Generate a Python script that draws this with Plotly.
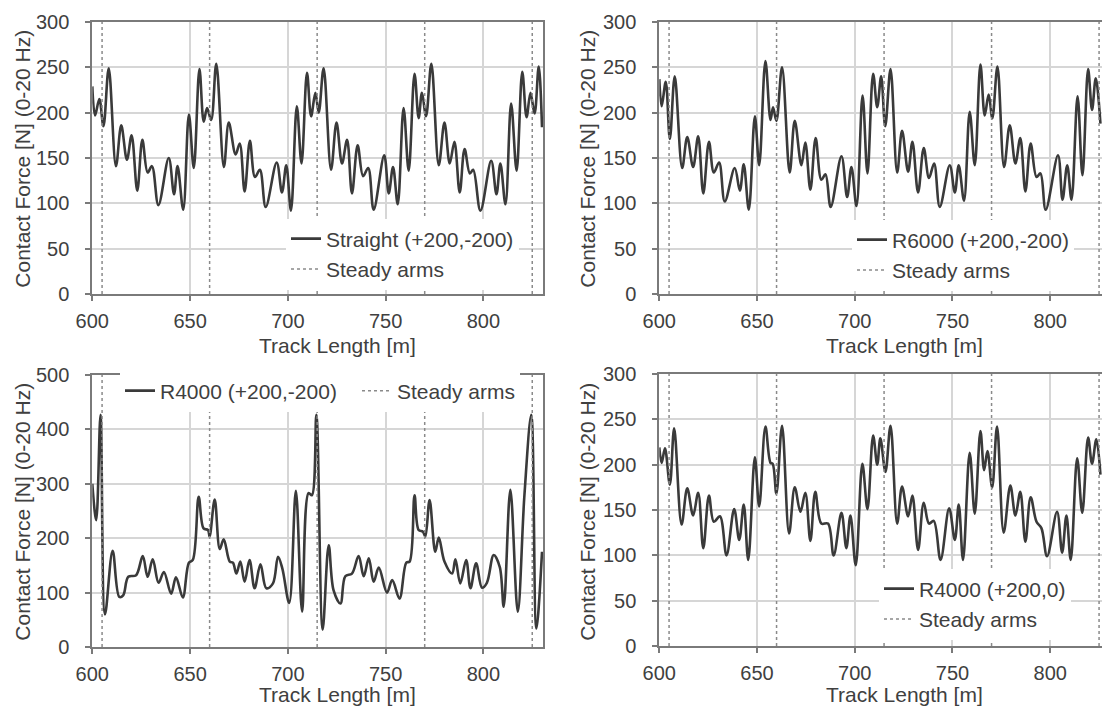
import plotly.graph_objects as go

W, H = 1102, 708

# Track positions of the steady arms [m]
steady_arm_x = [605, 660, 715, 770, 825]

# Straight track, stagger (+200,-200)
straight_x = [600, 601.4, 603.6, 605.7, 608.4, 612.1, 614.8, 617.7, 620.1, 623, 625.6, 628.3,
              630.5, 633.8, 639.1, 641.8, 643.6, 646.5, 649.4, 651.9, 654.8, 657, 658.7, 660.8,
              663.4, 667.3, 669.8, 673.3, 675.4, 677.9, 680.6, 683.2, 685.7, 688.7, 694.3, 697,
              699.2, 701.6, 704.6, 707, 709.8, 711.9, 714.1, 715.8, 718.3, 722.1, 724.9, 727.7,
              730.3, 732.8, 735.7, 738.5, 741.1, 743.9, 749.3, 751.6, 753.8, 756.2, 759.2, 761.8,
              764.8, 766.9, 768.6, 770.7, 773.4, 777.2, 780.1, 782.8, 785.2, 787.9, 790.4, 793.1,
              794.8, 798.5, 804, 806.7, 808.7, 811.3, 814.2, 817, 819.9, 822.1, 824.1, 826.2,
              828.3, 830]
straight_f = [229, 197, 215, 185, 249, 141, 186, 148, 175, 114, 170, 134,
              141, 98, 150, 110, 141, 93, 198, 139, 248, 190, 205, 192,
              254, 140, 189, 154, 166, 113, 169, 129, 137, 96, 145, 112,
              142, 92, 207, 144, 244, 196, 222, 200, 249, 137, 189, 144,
              170, 111, 164, 130, 139, 93, 153, 111, 140, 99, 205, 136,
              243, 194, 222, 196, 254, 142, 189, 144, 168, 112, 160, 133,
              137, 92, 147, 110, 144, 99, 210, 136, 245, 195, 222, 199,
              251, 184]

# Curve radius 6000 m, stagger (+200,-200)
r6000_x = [600, 601.2, 603.3, 605.4, 607.9, 611.7, 614.3, 617.3, 619.9, 622.5, 625.4, 627.9,
           630.6, 633.5, 638.6, 641.2, 643.2, 645.8, 648.9, 651.1, 654.3, 656.9, 658.2, 659.9,
           662.8, 666.7, 669.3, 672.7, 674.7, 677.3, 680, 682.9, 685, 687.7, 693.2, 696.1,
           698.3, 700.9, 704, 706.5, 709.4, 711.5, 713.5, 715.6, 718.3, 721.7, 724.2, 727.3,
           729.5, 732.4, 735.3, 738, 740.6, 743.5, 748.6, 751.2, 753.2, 755.9, 758.8, 761.4,
           764.3, 766.5, 768.5, 770.4, 773, 776.4, 779.3, 782.2, 784.7, 787.3, 790, 793,
           795, 797.7, 804, 806.3, 808.7, 810.9, 814, 816.5, 819.4, 821.4, 823.3, 825.7]
r6000_f = [237, 207, 234, 171, 240, 139, 173, 140, 174, 111, 168, 134,
           145, 102, 139, 114, 143, 93, 196, 142, 257, 192, 206, 191,
           250, 134, 191, 142, 167, 115, 172, 126, 132, 96, 152, 107,
           140, 97, 219, 133, 243, 206, 240, 185, 248, 134, 180, 135,
           168, 112, 161, 128, 144, 96, 142, 112, 142, 103, 201, 142,
           253, 197, 220, 194, 251, 140, 186, 144, 172, 113, 166, 129,
           133, 93, 153, 104, 142, 104, 218, 131, 248, 203, 238, 188]

# Curve radius 4000 m, stagger (+200,-200)
r4000a_x = [600, 602, 604.2, 606.5, 610.4, 613.8, 615.8, 618.4, 622.4, 625.8, 628.3, 630.9,
            633.9, 636.6, 640.3, 642.8, 646.3, 649.4, 651.4, 654.4, 656.9, 659.2, 660, 662.6,
            665.2, 667.2, 670.3, 671.9, 673.7, 675.7, 677.9, 680.4, 683, 686, 689, 692.4,
            695, 697.2, 700.7, 704.1, 707.3, 710.6, 712.3, 714.6, 717.8, 720.9, 723.4, 726.9,
            729.4, 732.8, 736.2, 738.8, 741.4, 743.9, 746.5, 750.7, 753.4, 757.1, 760.6, 762.3,
            764.8, 766.9, 769.1, 770.3, 772.5, 775.4, 777.2, 780.1, 784, 785.7, 788.2, 791.2,
            793.4, 796.3, 799.3, 801.8, 805.3, 808.4, 810.4, 813.8, 817.6, 821, 824.5, 827.1,
            830]
r4000a_f = [300, 233, 427, 60, 177, 92, 95, 129, 132, 167, 129, 161,
            118, 138, 98, 128, 91, 155, 160, 276, 218, 215, 203, 271,
            180, 198, 157, 155, 135, 157, 120, 160, 108, 152, 108, 117,
            166, 144, 81, 287, 65, 283, 279, 427, 32, 187, 104, 80,
            130, 135, 167, 130, 163, 120, 146, 100, 123, 89, 155, 157,
            279, 215, 212, 203, 270, 175, 201, 157, 135, 161, 117, 160,
            108, 154, 109, 118, 169, 147, 74, 289, 65, 279, 427, 34,
            175]

# Curve radius 4000 m, stagger (+200,0)
r4000b_x = [600, 601.2, 602.9, 605.4, 607.6, 611.4, 614.3, 617.3, 619.9, 622.5, 625.4, 627.9,
            631, 634.4, 638.3, 640.9, 643.2, 645.5, 648.9, 651.1, 654.3, 656.9, 658, 659.9,
            662.8, 666.4, 669.3, 672.2, 674.7, 677.3, 679.8, 682.9, 686.3, 689.2, 693.2, 695.7,
            697.8, 700.5, 703.9, 706.5, 709.4, 711.5, 713.1, 715.7, 718.3, 721.7, 724.2, 727.3,
            729.5, 732.4, 735.3, 738, 740.4, 743.9, 748.3, 751.2, 753.2, 755.4, 758.8, 761.4,
            764.3, 766.2, 767.9, 770.3, 772.8, 776.2, 779.6, 782.2, 784.7, 787.3, 790, 793,
            795.5, 798.4, 803.5, 806.1, 808.3, 810.5, 813.8, 816.4, 819.4, 821.4, 823.6, 825.7]
r4000b_f = [219, 202, 218, 178, 240, 134, 174, 144, 169, 108, 166, 137,
            143, 100, 151, 117, 156, 95, 208, 154, 242, 202, 201, 168,
            243, 124, 175, 148, 169, 116, 170, 135, 135, 100, 147, 108,
            144, 89, 201, 151, 232, 200, 229, 192, 243, 135, 176, 143,
            166, 106, 158, 135, 138, 95, 152, 117, 156, 95, 213, 146,
            237, 194, 215, 175, 242, 125, 177, 144, 170, 115, 164, 137,
            130, 99, 148, 103, 144, 95, 207, 147, 230, 201, 228, 189]

x_ticks = [600, 650, 700, 750, 800]

FONT = "Liberation Sans, Arial, sans-serif"
TXT = "#404040"
CURVE = "#3a3a3a"
ARM = "#8a8a8a"


def fx(p):
    return p / W


def fy(p):
    return 1 - p / H


panels = [
    # (series name, x, force, y max, y step, x pixel span, y pixel span, x max)
    ("Straight (+200,-200)", straight_x, straight_f, 300, 50, (92.3, 543), (22, 294), 830.5),
    ("R6000 (+200,-200)", r6000_x, r6000_f, 300, 50, (659.3, 1102), (22, 294), 826.5),
    ("R4000 (+200,-200)", r4000a_x, r4000a_f, 500, 100, (92.3, 543), (375, 647), 830.5),
    ("R4000 (+200,0)", r4000b_x, r4000b_f, 300, 50, (659.3, 1102), (374, 646), 826.5),
]

fig = go.Figure()
layout = {}
for i, (name, xs, fs, ymax, ystep, (x0, x1), (y0, y1), xmax) in enumerate(panels, start=1):
    sfx = "" if i == 1 else str(i)
    leg = "legend" if i == 1 else f"legend{i}"
    xa, ya = f"x{sfx}", f"y{sfx}"

    # steady arm positions as full-height dotted verticals
    arm_x, arm_y = [], []
    for a in steady_arm_x:
        arm_x += [a, a, None]
        arm_y += [0, ymax, None]

    curve = go.Scatter(
        x=xs, y=fs, mode="lines", name=name, xaxis=xa, yaxis=ya, legend=leg,
        line=dict(color=CURVE, width=2.6, shape="spline", smoothing=1.0),
        hoverinfo="skip")
    if i == 3:
        curve.legendwidth = 192
    fig.add_trace(curve)
    fig.add_trace(go.Scatter(
        x=arm_x, y=arm_y, mode="lines", name="Steady arms", xaxis=xa, yaxis=ya, legend=leg,
        line=dict(color=ARM, width=1.5, dash="3px,3px"), hoverinfo="skip"))

    common = dict(
        showline=True, mirror=True, linecolor="#7a7a7a", linewidth=2,
        showgrid=True, gridcolor="#d6d6d6", gridwidth=1.5, zeroline=False,
        ticks="outside", ticklen=5, tickwidth=2, tickcolor="#7a7a7a",
        tickfont=dict(family=FONT, size=20, color=TXT), automargin=False,
    )
    layout[f"xaxis{sfx}"] = dict(
        common, domain=[fx(x0), fx(x1)], range=[600, xmax], tickvals=x_ticks,
        anchor=ya, ticklabelstandoff=3)
    layout[f"yaxis{sfx}"] = dict(
        common, domain=[fy(y1), fy(y0)], range=[0, ymax], dtick=ystep,
        anchor=xa, ticklabelstandoff=12)

legend_font = dict(family=FONT, size=21, color=TXT)
layout["legend"] = dict(x=fx(286), y=fy(254), xanchor="left", yanchor="middle",
                        bgcolor="white", font=legend_font, tracegroupgap=0)
layout["legend2"] = dict(x=fx(852), y=fy(255), xanchor="left", yanchor="middle",
                         bgcolor="white", font=legend_font, tracegroupgap=0)
layout["legend3"] = dict(x=fx(120), y=fy(391), xanchor="left", yanchor="middle",
                         orientation="h", bgcolor="white", font=legend_font)
layout["legend4"] = dict(x=fx(879), y=fy(604), xanchor="left", yanchor="middle",
                         bgcolor="white", font=legend_font, tracegroupgap=0)

title_font = dict(family=FONT, size=21, color=TXT)
annotations = []
for cx in (21.7, 586.7):
    for cy in (159, 512):
        annotations.append(dict(
            text="Contact Force [N] (0-20 Hz)", x=fx(cx), y=fy(cy), xref="paper", yref="paper",
            xanchor="center", yanchor="middle", textangle=-90, showarrow=False, font=title_font))
for cx in (337, 904):
    for cy in (345, 694):
        annotations.append(dict(
            text="Track Length [m]", x=fx(cx), y=fy(cy), xref="paper", yref="paper",
            xanchor="center", yanchor="middle", showarrow=False, font=title_font))

fig.update_layout(
    width=W, height=H, margin=dict(l=0, r=0, t=0, b=0, autoexpand=False),
    paper_bgcolor="white", plot_bgcolor="white",
    annotations=annotations, **layout)

fig.write_html("out.html")
